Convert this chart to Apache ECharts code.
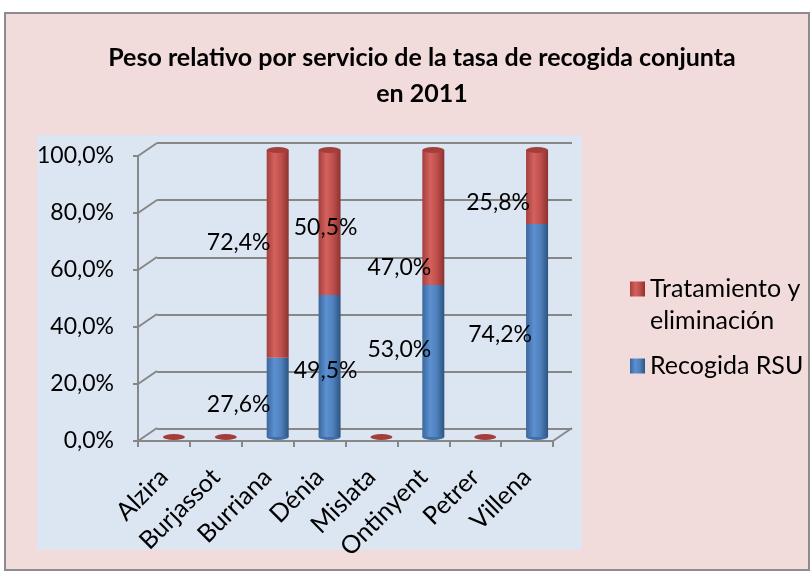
<!DOCTYPE html>
<html>
<head>
<meta charset="utf-8">
<script src="https://cdn.jsdelivr.net/npm/echarts@6/dist/echarts.min.js"></script>
<style>
  html, body { margin: 0; padding: 0; background: #fff; }
  #chart { width: 811px; height: 574px; }
</style>
</head>
<body>
<div id="chart"></div>
<script>
// datos del gráfico
const categories = ['Alzira', 'Burjassot', 'Burriana', 'Dénia', 'Mislata', 'Ontinyent', 'Petrer', 'Villena']
const recogida = [0, 0, 27.6, 49.5, 0, 53.0, 0, 74.2]
const tratamiento = [0, 0, 72.4, 50.5, 0, 47.0, 0, 25.8]
const yTicks = [0, 20, 40, 60, 80, 100]

// desplazamiento de las etiquetas (como en Excel, a la izquierda del cilindro)
const shiftRecogida = [[0, 0], [0, 0], [-39, 7], [-4, 5], [0, 0], [-34, -11], [0, 0], [-37, 4]]
const shiftTratamiento = [[0, 0], [0, 0], [-39, -11], [-4, 5], [0, 0], [-34, 50], [0, 0], [-39, 16]]

const FONT = 'Lato'
const GRID_COLOR = '#878787'
const DX = 19, DY = 13 // profundidad 3D

const pct = v => v.toFixed(1).replace('.', ',') + '%'
const totals = recogida.map((v, i) => v + tratamiento[i])

var myChart = echarts.init(document.getElementById('chart'))

const cylinder = (c0, c1, c2, c3) => ({
  type: 'linear', x: 0, y: 0, x2: 1, y2: 0,
  colorStops: [
    { offset: 0, color: c0 },
    { offset: 0.35, color: c1 },
    { offset: 0.65, color: c2 },
    { offset: 1, color: c3 }
  ]
})

const barLabel = {
  show: true,
  position: 'inside',
  color: '#000',
  fontFamily: FONT,
  fontSize: 23,
  formatter: p => (p.value ? pct(p.value) : '')
}

var option = {
  backgroundColor: '#fff',
  animation: false,
  graphic: [
    {
      type: 'rect', z: -10,
      shape: { x: 5, y: 13, width: 804, height: 557 },
      style: { fill: '#F2DCDB', stroke: '#8c8c8c', lineWidth: 2 }
    },
    {
      type: 'rect', z: -9,
      shape: { x: 37, y: 135, width: 545, height: 415 },
      style: { fill: '#DCE6F2' }
    }
  ],
  title: {
    text: 'Peso relativo por servicio de la tasa de recogida conjunta\nen 2011',
    left: 417,
    top: 35,
    textAlign: 'center',
    textStyle: {
      fontFamily: FONT,
      fontWeight: 'bold',
      fontSize: 25,
      lineHeight: 36,
      color: '#000'
    }
  },
  legend: {
    orient: 'vertical',
    left: 625,
    top: 236,
    itemGap: 13,
    itemWidth: 15,
    itemHeight: 15,
    icon: 'rect',
    data: ['Tratamiento y eliminación', 'Recogida RSU'],
    formatter: name => (name === 'Tratamiento y eliminación' ? '\nTratamiento y\neliminación' : name),
    textStyle: { fontFamily: FONT, fontSize: 25, lineHeight: 32, color: '#000' }
  },
  grid: [
    { left: 138, top: 156, width: 415, height: 285 },  // frente
    { left: 157, top: 143, width: 415, height: 286 },  // pared del fondo
    { left: 148, top: 150, width: 415, height: 287 }   // cilindros
  ],
  xAxis: [
    {
      gridIndex: 0,
      type: 'category',
      data: categories,
      axisLine: { lineStyle: { color: GRID_COLOR, width: 2 } },
      axisTick: { show: true, length: 6, lineStyle: { color: GRID_COLOR, width: 2 } },
      axisLabel: { rotate: 45, margin: 32, interval: 0, fontFamily: FONT, fontSize: 25, color: '#000' }
    },
    { gridIndex: 1, type: 'category', data: categories, show: false },
    { gridIndex: 2, type: 'category', data: categories, show: false }
  ],
  yAxis: [
    {
      gridIndex: 0,
      type: 'value', min: 0, max: 100, interval: 20,
      axisLine: { show: true, lineStyle: { color: GRID_COLOR, width: 2 } },
      axisTick: { show: true, length: 5, lineStyle: { color: GRID_COLOR, width: 2 } },
      splitLine: { show: false },
      axisLabel: { margin: 24, formatter: pct, fontFamily: FONT, fontSize: 23, color: '#000' }
    },
    {
      gridIndex: 1,
      type: 'value', min: 0, max: 100, interval: 20,
      axisLine: { show: false },
      axisTick: { show: false },
      axisLabel: { show: false },
      splitLine: { show: true, lineStyle: { color: GRID_COLOR, width: 2 } }
    },
    { gridIndex: 2, type: 'value', min: 0, max: 100, show: false }
  ],
  series: [
    {
      // diagonales de la perspectiva
      type: 'custom',
      xAxisIndex: 0,
      yAxisIndex: 0,
      silent: true,
      data: yTicks.map(v => [0, v]),
      renderItem: (params, api) => {
        const cs = params.coordSys
        const y = api.coord([0, api.value(1)])[1]
        const style = { stroke: GRID_COLOR, lineWidth: 2 }
        const children = [
          { type: 'line', shape: { x1: cs.x, y1: y, x2: cs.x + DX, y2: y - DY }, style }
        ]
        if (api.value(1) === 0) {
          children.push({
            type: 'line',
            shape: { x1: cs.x + cs.width, y1: y, x2: cs.x + cs.width + DX, y2: y - DY },
            style
          })
        }
        return { type: 'group', children }
      }
    },
    {
      // base redondeada de los cilindros
      type: 'pictorialBar',
      xAxisIndex: 2,
      yAxisIndex: 2,
      silent: true,
      symbol: 'circle',
      symbolSize: [22, 6],
      symbolPosition: 'start',
      symbolOffset: [0, '50%'],
      itemStyle: { color: '#3F6DA6' },
      z: 1,
      data: totals.map(v => (v > 0 ? v : '-'))
    },
    {
      name: 'Recogida RSU',
      type: 'bar',
      xAxisIndex: 2,
      yAxisIndex: 2,
      stack: 'total',
      barWidth: 22,
      z: 2,
      itemStyle: { color: cylinder('#3A679C', '#5C90D2', '#4F81BD', '#2C5480') },
      label: barLabel,
      data: recogida.map((v, i) => ({ value: v, label: { offset: shiftRecogida[i] } }))
    },
    {
      name: 'Tratamiento y eliminación',
      type: 'bar',
      xAxisIndex: 2,
      yAxisIndex: 2,
      stack: 'total',
      barWidth: 22,
      z: 2,
      itemStyle: { color: cylinder('#A33F3C', '#D4615D', '#C0504D', '#8C3230') },
      label: barLabel,
      data: tratamiento.map((v, i) => ({ value: v, label: { offset: shiftTratamiento[i] } }))
    },
    {
      // tapa superior de los cilindros
      type: 'pictorialBar',
      xAxisIndex: 2,
      yAxisIndex: 2,
      silent: true,
      symbol: 'circle',
      symbolSize: [22, 6],
      symbolPosition: 'end',
      symbolOffset: [0, '-50%'],
      itemStyle: { color: '#A33E3B' },
      z: 3,
      data: totals
    }
  ]
}

option && myChart.setOption(option)
</script>
</body>
</html>
